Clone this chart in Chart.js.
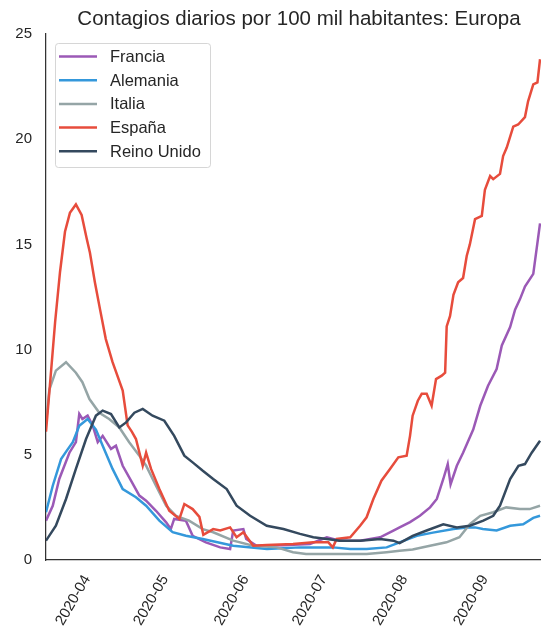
<!DOCTYPE html>
<html>
<head>
<meta charset="utf-8">
<script src="https://cdn.jsdelivr.net/npm/chart.js@4.4.0/dist/chart.umd.min.js"></script>
<style>
html, body { margin: 0; padding: 0; background: #fff; overflow: hidden; }
canvas { display: block; }
</style>
</head>
<body>
<canvas id="chart" width="552" height="639"></canvas>
<script>
// x = días desde 2020-03-22
const titulo = 'Contagios diarios por 100 mil habitantes: Europa';

const paises = ['Francia', 'Alemania', 'Italia', 'España', 'Reino Unido'];
const colores = ['#9b59b6', '#3498db', '#95a5a6', '#e74c3c', '#34495e'];

const diasFrancia = [0, 2.6, 5.1, 9, 11.5, 12.8, 14, 16, 18, 19.9, 21.8, 25, 26.9, 29.5, 32.7, 35.9, 38.5, 42.3, 46.2, 48, 49.3, 53.8, 56.4, 61.5, 67, 70.8, 72, 75.9, 77, 81, 91, 101.5, 108, 113, 120.8, 128.5, 133.6, 136, 140, 143.8, 147.7, 150.3, 152.8, 154.5, 155.6, 158, 160.4, 164.3, 167, 170, 173.3, 175.3, 178.5, 180.4, 182.3, 184.2, 187.4, 190];
const francia = [1.87, 2.58, 3.85, 5.1, 5.6, 6.94, 6.7, 6.86, 6.38, 5.6, 5.9, 5.28, 5.43, 4.48, 3.77, 3.06, 2.82, 2.34, 1.79, 1.47, 1.95, 1.87, 1.15, 0.84, 0.6, 0.52, 1.4, 1.47, 1.0, 0.68, 0.7, 0.76, 1.08, 0.92, 0.92, 1.08, 1.4, 1.55, 1.8, 2.1, 2.5, 2.9, 3.85, 4.56, 3.6, 4.48, 5.1, 6.2, 7.33, 8.28, 9.08, 10.2, 11.07, 11.9, 12.4, 13.0, 13.6, 16.0];

const diasAlemania = [0, 2.6, 5.8, 8, 10.3, 12.8, 16, 19.2, 21.8, 25.6, 29.5, 34.6, 38.5, 43.6, 48.7, 53.8, 60.3, 72, 85, 97.7, 110.4, 117, 123.3, 131, 136, 142.6, 148.8, 156.7, 161.8, 165, 168, 173.3, 178.5, 183.5, 187.4, 190];
const alemania = [2.27, 3.53, 4.8, 5.2, 5.6, 6.38, 6.7, 6.2, 5.43, 4.33, 3.37, 2.98, 2.58, 1.87, 1.32, 1.15, 1.0, 0.68, 0.52, 0.6, 0.6, 0.52, 0.52, 0.6, 0.84, 1.15, 1.3, 1.47, 1.55, 1.55, 1.47, 1.4, 1.63, 1.7, 2.0, 2.1];

const diasItalia = [0, 1.3, 3.8, 7.7, 11.5, 14, 16.7, 20.5, 24.3, 28.2, 32, 35.9, 38.5, 42.3, 46.2, 50, 55, 60.3, 64.3, 72, 79.7, 88.7, 95, 100, 110.5, 123.3, 131, 136, 141, 147.7, 154, 159, 163, 167, 172, 177, 182.3, 186, 190];
const italia = [6.5, 8.1, 9.0, 9.4, 8.9, 8.45, 7.65, 7.0, 6.7, 6.3, 5.6, 4.96, 4.48, 3.53, 2.58, 2.1, 1.87, 1.47, 1.32, 0.92, 0.68, 0.6, 0.37, 0.28, 0.28, 0.28, 0.37, 0.44, 0.5, 0.68, 0.84, 1.08, 1.7, 2.1, 2.27, 2.5, 2.42, 2.42, 2.58];

const diasEspana = [0, 1.5, 3.5, 5.4, 7.3, 9.2, 11.5, 13.7, 15.6, 16.9, 18.8, 20.8, 23, 25.6, 29.5, 31.4, 33, 34.6, 37.2, 38.5, 40.4, 43.6, 47.4, 51.3, 53.2, 56.4, 59, 60.5, 64.3, 67, 70.8, 73.3, 75.9, 79.7, 84.9, 95, 102.8, 108.6, 110.3, 111.8, 117, 120.8, 123.3, 125.9, 129, 132.3, 135.5, 138.7, 140, 141, 143, 144.5, 146.4, 148.3, 150, 152.2, 153.5, 154.1, 155.4, 156.7, 158.5, 160.4, 161.8, 163, 165, 167.6, 168.8, 170.8, 172, 174.6, 175.8, 177.2, 179.7, 181.6, 184.2, 185.4, 187.4, 189, 190];
const espana = [6.1, 8.3, 11.3, 13.7, 15.6, 16.5, 16.9, 16.4, 15.3, 14.6, 13.2, 11.9, 10.5, 9.4, 8.05, 6.4, 6.1, 5.75, 4.48, 5.1, 4.33, 3.37, 2.34, 1.95, 2.66, 2.42, 2.05, 1.2, 1.47, 1.4, 1.55, 1.08, 1.32, 0.68, 0.71, 0.76, 0.84, 0.84, 0.6, 1.0, 1.08, 1.63, 2.03, 2.9, 3.77, 4.33, 4.88, 4.96, 5.9, 6.86, 7.57, 7.9, 7.9, 7.33, 8.6, 8.76, 8.9, 11.1, 11.6, 12.6, 13.2, 13.4, 14.45, 15.0, 16.2, 16.35, 17.6, 18.25, 18.1, 18.35, 19.2, 19.6, 20.6, 20.7, 21.05, 21.8, 22.6, 22.7, 23.8];

const diasReinoUnido = [0, 3.8, 7.7, 11.5, 15.4, 19.2, 21.8, 25, 28.2, 30.8, 34, 37.2, 41, 45.5, 49.3, 53.2, 56.4, 60.3, 64.3, 69.5, 73.3, 78.5, 84.9, 91.3, 97.7, 102.8, 108, 113, 120.8, 128.5, 133.6, 136, 141, 146.4, 152.8, 158, 163, 168.2, 172, 174.6, 178.5, 181.7, 184.2, 186.8, 190];
const reinoUnido = [0.92, 1.63, 2.9, 4.33, 5.75, 6.86, 7.1, 6.94, 6.3, 6.54, 7.0, 7.18, 6.86, 6.62, 5.9, 4.96, 4.64, 4.24, 3.85, 3.37, 2.58, 2.1, 1.63, 1.47, 1.24, 1.08, 1.0, 0.92, 0.92, 1.0, 0.92, 0.8, 1.15, 1.4, 1.7, 1.55, 1.63, 1.87, 2.1, 2.58, 3.85, 4.48, 4.56, 5.1, 5.67];

const mesesDias = [10, 40, 71, 101, 132, 163];
const mesesEtiquetas = ['2020-04', '2020-05', '2020-06', '2020-07', '2020-08', '2020-09'];
const yTicks = [0, 5, 10, 15, 20, 25];

const series = [
    [diasFrancia, francia],
    [diasAlemania, alemania],
    [diasItalia, italia],
    [diasEspana, espana],
    [diasReinoUnido, reinoUnido]
];

const fuente = '"Liberation Sans", Arial, sans-serif';
const texto = '#262626';

const datasets = series.map(([dias, vals], i) => ({
    label: paises[i],
    data: dias.map((d, j) => ({ x: d, y: vals[j] })),
    borderColor: colores[i],
    borderWidth: 2.5,
    pointRadius: 0,
    tension: 0,
    fill: false,
    order: paises.length - i
}));

const tituloPlugin = {
    id: 'titulo',
    afterDraw(chart) {
        const { ctx, chartArea } = chart;
        ctx.save();
        ctx.font = '20.5px ' + fuente;
        ctx.fillStyle = texto;
        ctx.textAlign = 'center';
        ctx.textBaseline = 'alphabetic';
        ctx.fillText(titulo, (chartArea.left + chartArea.right) / 2, 24.5);
        ctx.restore();
    }
};

const leyendaPlugin = {
    id: 'leyenda',
    afterDraw(chart) {
        const { ctx, chartArea } = chart;
        const bx = chartArea.left + 9, by = chartArea.top + 9, bw = 155, bh = 124;
        ctx.save();
        ctx.globalAlpha = 0.8;
        ctx.fillStyle = '#fff';
        ctx.strokeStyle = '#cccccc';
        ctx.lineWidth = 1;
        ctx.beginPath();
        ctx.roundRect(bx + 0.5, by + 0.5, bw, bh, 3);
        ctx.fill();
        ctx.stroke();
        ctx.globalAlpha = 1;
        ctx.font = '16.5px ' + fuente;
        ctx.textBaseline = 'middle';
        ctx.textAlign = 'left';
        chart.data.datasets.forEach((ds, i) => {
            const y = by + 13.5 + i * 23.7;
            ctx.strokeStyle = ds.borderColor;
            ctx.lineWidth = 2.5;
            ctx.beginPath();
            ctx.moveTo(bx + 4, y);
            ctx.lineTo(bx + 42, y);
            ctx.stroke();
            ctx.fillStyle = texto;
            ctx.fillText(ds.label, bx + 55, y + 1);
        });
        ctx.restore();
    }
};

const ctx = document.getElementById('chart').getContext('2d');

const chart = new Chart(ctx, {
    type: 'line',
    data: { datasets: datasets },
    plugins: [tituloPlugin, leyendaPlugin],
    options: {
        responsive: false,
        animation: false,
        layout: { padding: { top: 34, left: 0, right: 0, bottom: 0 } },
        plugins: {
            legend: { display: false },
            title: { display: false },
            tooltip: { enabled: false }
        },
        scales: {
            x: {
                type: 'linear',
                min: 0,
                max: 194.6,
                grid: { display: false, drawTicks: false },
                border: { display: true, color: '#333', width: 1.25 },
                afterBuildTicks: (scale) => {
                    scale.ticks = mesesDias.map(v => ({ value: v }));
                },
                afterFit: (scale) => { scale.height = 79; },
                ticks: {
                    autoSkip: false,
                    minRotation: 60,
                    maxRotation: 60,
                    padding: 12,
                    labelOffset: 15,
                    color: texto,
                    font: { family: fuente, size: 15 },
                    callback: (value) => mesesEtiquetas[mesesDias.indexOf(value)]
                }
            },
            y: {
                min: 0,
                max: 25,
                grid: { display: false, drawTicks: false },
                border: { display: true, color: '#333', width: 1.25 },
                afterBuildTicks: (scale) => {
                    scale.ticks = yTicks.map(v => ({ value: v }));
                },
                afterFit: (scale) => { scale.width = 46; },
                ticks: {
                    padding: 14,
                    color: texto,
                    font: { family: fuente, size: 15 }
                }
            }
        }
    }
});
</script>
</body>
</html>
